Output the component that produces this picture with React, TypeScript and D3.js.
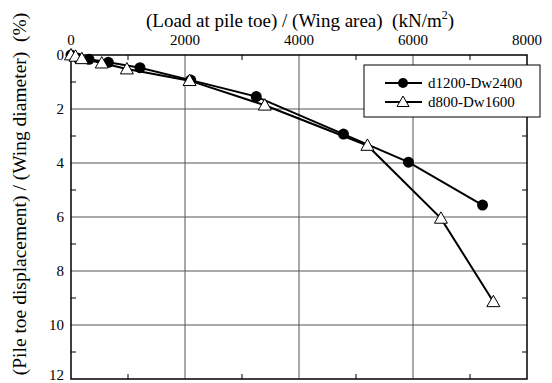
import React from "react";
import * as d3 from "d3";

const xTicks = [0, 2000, 4000, 6000, 8000];
const xMinor = [1000, 3000, 5000, 7000];
const yTicks = [0, 2, 4, 6, 8, 10, 12];
const yMinor = [1, 3, 5, 7, 9, 11];

const s1Name = "d1200-Dw2400";
const s1X = [0, 128, 316, 655, 1210, 2100, 3250, 4780, 5920, 7220];
const s1Y = [0, 0.12, 0.16, 0.27, 0.47, 0.93, 1.54, 2.93, 3.97, 5.56];

const s2Name = "d800-Dw1600";
const s2X = [0, 80, 190, 540, 980, 2080, 3400, 5200, 6490, 7410];
const s2Y = [0, 0.05, 0.14, 0.3, 0.52, 0.95, 1.86, 3.35, 6.05, 9.14];

const W = 552, H = 383;
const L = 71, R = 527, T = 55, B = 379;

export default function App() {
  const x = d3.scaleLinear().domain([0, 8000]).range([L, R]);
  const y = d3.scaleLinear().domain([0, 12]).range([T, B]);
  const line = d3.line<[number, number]>().x(d => x(d[0])).y(d => y(d[1]));
  const d1 = s1X.map((v, i) => [v, s1Y[i]] as [number, number]);
  const d2 = s2X.map((v, i) => [v, s2Y[i]] as [number, number]);
  const tri = (cx: number, cy: number, s = 6.5) =>
    `M${cx},${cy - s} L${cx + s * 1.0},${cy + s * 0.75} L${cx - s * 1.0},${cy + s * 0.75} Z`;
  const font = '"Liberation Serif", "Times New Roman", Times, serif';
  const lx = 364, ly = 65, lw = 176, lh = 52;
  return (
    <svg width={W} height={H} style={{ position: "absolute", left: 0, top: 0, background: "#fff", fontFamily: font }}>
      {/* grid */}
      {xTicks.slice(1, -1).map(t => (
        <line key={"gx" + t} x1={x(t)} x2={x(t)} y1={T} y2={B} stroke="#555" strokeWidth={1} />
      ))}
      {yTicks.slice(1, -1).map(t => (
        <line key={"gy" + t} x1={L} x2={R} y1={y(t)} y2={y(t)} stroke="#555" strokeWidth={1} />
      ))}
      {/* minor ticks */}
      {xMinor.map(t => (
        <g key={"mx" + t}>
          <line x1={x(t)} x2={x(t)} y1={T} y2={T + 5} stroke="#000" />
          <line x1={x(t)} x2={x(t)} y1={B} y2={B - 5} stroke="#000" />
        </g>
      ))}
      {yMinor.map(t => (
        <g key={"my" + t}>
          <line x1={L} x2={L + 5} y1={y(t)} y2={y(t)} stroke="#000" />
          <line x1={R} x2={R - 5} y1={y(t)} y2={y(t)} stroke="#000" />
        </g>
      ))}
      <rect x={L} y={T} width={R - L} height={B - T} fill="none" stroke="#000" strokeWidth={1.5} />
      {/* tick labels */}
      {xTicks.map(t => (
        <text key={"tx" + t} x={x(t)} y={T - 10} textAnchor="middle" fontSize={15} style={{ fontFamily: font }}>{t}</text>
      ))}
      {yTicks.map(t => (
        <text key={"ty" + t} x={L - 7} y={Math.min(y(t) + 5, 380)} textAnchor="end" fontSize={15} style={{ fontFamily: font }}>{t}</text>
      ))}
      {/* titles */}
      <text x={300} y={27} textAnchor="middle" fontSize={19} xmlSpace="preserve" style={{ fontFamily: font, whiteSpace: "pre" }}>
        (Load at pile toe) / (Wing area)  (kN/m<tspan dy={-8} fontSize={12}>2</tspan><tspan dy={8}>)</tspan>
      </text>
      <text transform={`translate(26,${194}) rotate(-90)`} textAnchor="middle" fontSize={19.5} xmlSpace="preserve" style={{ fontFamily: font, whiteSpace: "pre" }}>
        (Pile toe displacement) / (Wing diameter)  (%)
      </text>
      {/* series */}
      <path d={line(d1) || ""} fill="none" stroke="#000" strokeWidth={2} />
      <path d={line(d2) || ""} fill="none" stroke="#000" strokeWidth={2} />
      {d1.map((p, i) => (
        <circle key={"c" + i} cx={x(p[0])} cy={y(p[1])} r={5.5} fill="#000" />
      ))}
      {d2.map((p, i) => (
        <path key={"t" + i} d={tri(x(p[0]), y(p[1]))} fill="#fff" stroke="#000" strokeWidth={1} />
      ))}
      {/* legend */}
      <rect x={lx} y={ly} width={lw} height={lh} fill="#fff" stroke="#000" strokeWidth={1} />
      <line x1={385} x2={422} y1={83} y2={83} stroke="#000" strokeWidth={2} />
      <circle cx={403} cy={83} r={5} fill="#000" />
      <text x={428} y={88} fontSize={15} style={{ fontFamily: font }}>{s1Name}</text>
      <line x1={385} x2={422} y1={102} y2={102} stroke="#000" strokeWidth={2} />
      <path d={tri(403, 102, 6)} fill="#fff" stroke="#000" strokeWidth={1} />
      <text x={428} y={107} fontSize={15} style={{ fontFamily: font }}>{s2Name}</text>
    </svg>
  );
}
